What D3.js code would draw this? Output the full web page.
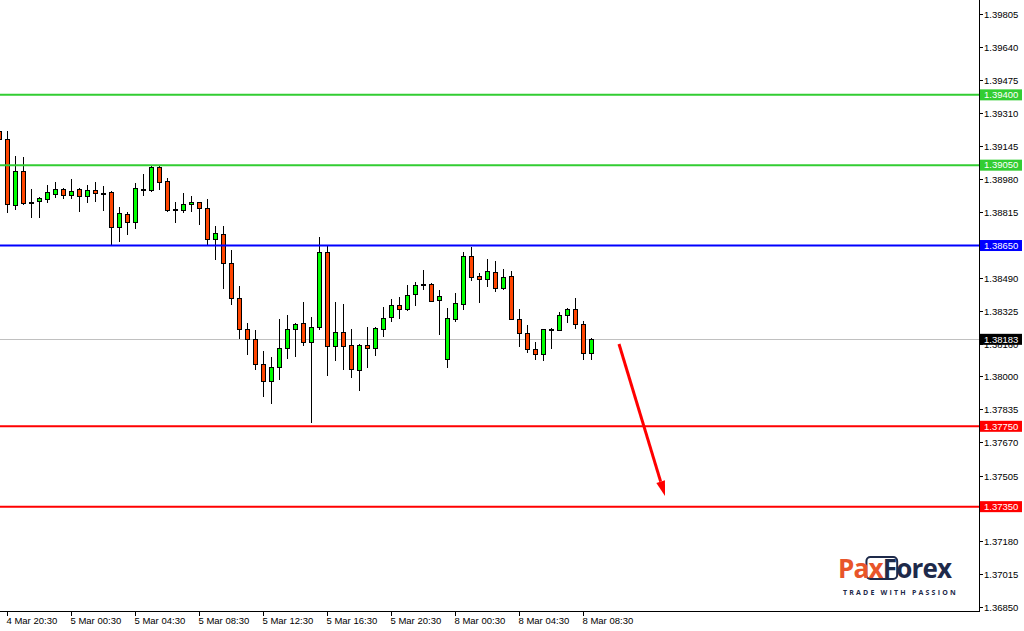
<!DOCTYPE html>
<html><head><meta charset="utf-8">
<script src="https://cdn.jsdelivr.net/npm/d3@7/dist/d3.min.js"></script>
<style>html,body{margin:0;padding:0;background:#fff;}svg{display:block;}</style>
</head><body>
<svg id="chart" width="1024" height="631"></svg>
<script>
// ---- data (M30 candles, bar index -1 .. 73) ----
const firstBar = -1;
const open = [1.39220,1.39180,1.38852,1.39021,1.38867,1.38872,1.38882,1.38906,1.38931,1.38902,
1.38931,1.38897,1.38926,1.38911,1.38916,1.38742,1.38807,1.38767,1.38931,1.38926,
1.39041,1.38971,1.38832,1.38827,1.38857,1.38867,1.38837,1.38682,1.38707,1.38563,
1.38389,1.38234,1.38184,1.38060,1.37975,1.38045,1.38140,1.38234,1.38264,1.38169,
1.38244,1.38618,1.38150,1.38219,1.38155,1.38030,1.38155,1.38140,1.38234,1.38294,
1.38354,1.38334,1.38408,1.38458,1.38458,1.38379,1.38085,1.38284,1.38359,1.38598,
1.38498,1.38483,1.38518,1.38438,1.38498,1.38284,1.38214,1.38135,1.38110,1.38232,
1.38229,1.38304,1.38334,1.38259,1.38115];
const high = [1.39230,1.39220,1.39096,1.39091,1.38931,1.38892,1.38951,1.38966,1.38936,1.38981,
1.38936,1.38951,1.38966,1.38946,1.38921,1.38842,1.38817,1.38961,1.39006,1.39046,
1.39046,1.38986,1.38867,1.38911,1.38897,1.38867,1.38882,1.38747,1.38747,1.38628,
1.38448,1.38264,1.38229,1.38125,1.38095,1.38284,1.38304,1.38264,1.38369,1.38294,
1.38692,1.38648,1.38369,1.38359,1.38234,1.38160,1.38244,1.38244,1.38344,1.38384,
1.38394,1.38453,1.38468,1.38528,1.38463,1.38428,1.38339,1.38413,1.38618,1.38643,
1.38513,1.38583,1.38573,1.38533,1.38523,1.38334,1.38254,1.38169,1.38234,1.38239,
1.38319,1.38339,1.38389,1.38274,1.38188];
const low = [1.39170,1.38817,1.38832,1.38857,1.38792,1.38792,1.38867,1.38892,1.38887,1.38887,
1.38822,1.38867,1.38872,1.38827,1.38657,1.38672,1.38707,1.38737,1.38902,1.38921,
1.38931,1.38822,1.38767,1.38817,1.38822,1.38757,1.38653,1.38583,1.38438,1.38359,
1.38189,1.38110,1.38035,1.37901,1.37866,1.37985,1.38090,1.38100,1.38155,1.37771,
1.38234,1.38005,1.38080,1.38035,1.37995,1.37930,1.38045,1.38105,1.38199,1.38274,
1.38289,1.38329,1.38354,1.38433,1.38374,1.38209,1.38045,1.38274,1.38334,1.38478,
1.38369,1.38448,1.38423,1.38433,1.38284,1.38150,1.38120,1.38085,1.38080,1.38140,
1.38229,1.38269,1.38239,1.38085,1.38085];
const close = [1.39180,1.38857,1.39021,1.38862,1.38867,1.38887,1.38916,1.38931,1.38902,1.38921,
1.38897,1.38926,1.38911,1.38911,1.38742,1.38812,1.38767,1.38936,1.38931,1.39041,
1.38966,1.38827,1.38832,1.38857,1.38867,1.38837,1.38682,1.38712,1.38563,1.38389,
1.38234,1.38184,1.38060,1.37975,1.38045,1.38140,1.38234,1.38259,1.38169,1.38244,
1.38618,1.38150,1.38219,1.38150,1.38035,1.38155,1.38140,1.38239,1.38289,1.38354,
1.38334,1.38404,1.38453,1.38458,1.38374,1.38399,1.38289,1.38364,1.38598,1.38493,
1.38483,1.38523,1.38438,1.38493,1.38284,1.38214,1.38135,1.38110,1.38234,1.38232,
1.38304,1.38334,1.38259,1.38115,1.38183];

const xTickLabels = ["4 Mar 20:30","5 Mar 00:30","5 Mar 04:30","5 Mar 08:30","5 Mar 12:30",
  "5 Mar 16:30","5 Mar 20:30","8 Mar 00:30","8 Mar 04:30","8 Mar 08:30"];
const xTickBars = [0,8,16,24,32,40,48,56,64,72];
// price-scale ticks; the ones hidden behind level labels carry no visible text
const yTickValues = [1.39805,1.39640,1.39475,1.39310,1.39145,1.38980,1.38815,1.38650,1.38490,
  1.38325,1.38160,1.38000,1.37835,1.37670,1.37505,1.37340,1.37180,1.37015,1.36850];
const yTickHidden = [1.38650,1.37340];

const levelPrices = [1.39400,1.39050,1.38650,1.37750,1.37350];
const levelColors = ["#32CD32","#32CD32","#0000FF","#FF0000","#FF0000"];
const currentPrice = 1.38183;
const arrowFrom = {bar:76.5, price:1.38160};
const arrowTo = {bar:82.25, price:1.37403};

// ---- layout ----
const W = 1024, H = 631, plotRight = 979, plotBottom = 611;
const svg = d3.select("#chart");
const x = d3.scaleLinear().domain([0,72]).range([7,583]);
const y = d3.scaleLinear().domain([1.3685,1.39805]).range([607.1,13.5]);
const font = "'Liberation Sans', Arial, sans-serif";

svg.append("rect").attr("width",W).attr("height",H).attr("fill","#fff");

const candles = d3.range(open.length).map(i => ({
  k: i + firstBar, o: open[i], h: high[i], l: low[i], c: close[i]
}));

svg.append("clipPath").attr("id","clip").append("rect")
  .attr("x",0).attr("y",0).attr("width",plotRight).attr("height",plotBottom);
const plot = svg.append("g").attr("clip-path","url(#clip)");

// current price line
plot.append("line").attr("x1",0).attr("x2",plotRight)
  .attr("y1",Math.round(y(currentPrice))+0.5).attr("y2",Math.round(y(currentPrice))+0.5)
  .attr("stroke","#C0C0C0").attr("stroke-width",1);

// candles
const cg = plot.append("g").selectAll("g").data(candles).join("g");
cg.append("line")
  .attr("x1",d=>Math.round(x(d.k))+0.5).attr("x2",d=>Math.round(x(d.k))+0.5)
  .attr("y1",d=>Math.round(y(d.h))).attr("y2",d=>Math.round(y(d.l))+1)
  .attr("stroke","#000").attr("stroke-width",1);
cg.append("rect")
  .attr("x",d=>Math.round(x(d.k))-1.5)
  .attr("width",4)
  .attr("y",d=>Math.round(y(Math.max(d.o,d.c)))+0.5)
  .attr("height",d=>Math.max(1,Math.round(y(Math.min(d.o,d.c)))-Math.round(y(Math.max(d.o,d.c)))))
  .attr("fill",d=>d.c>d.o?"#00FF00":(d.c<d.o?"#FF4500":"#000"))
  .attr("stroke","#000").attr("stroke-width",1);

// level lines
plot.append("g").selectAll("line").data(levelPrices).join("line")
  .attr("x1",0).attr("x2",plotRight)
  .attr("y1",d=>y(d)).attr("y2",d=>y(d))
  .attr("stroke",(d,i)=>levelColors[i]).attr("stroke-width",2);

// arrow
const ax1 = x(arrowFrom.bar), ay1 = y(arrowFrom.price), ax2 = x(arrowTo.bar), ay2 = y(arrowTo.price);
const ang = Math.atan2(ay2-ay1, ax2-ax1);
const headLen = 15, headHalf = 4.5;
const bx = ax2 - headLen*Math.cos(ang), by = ay2 - headLen*Math.sin(ang);
plot.append("line").attr("x1",ax1).attr("y1",ay1).attr("x2",bx).attr("y2",by)
  .attr("stroke","#FF0000").attr("stroke-width",3);
plot.append("path")
  .attr("d", d3.line()([[ax2,ay2],[bx - headHalf*Math.sin(ang), by + headHalf*Math.cos(ang)],
                        [bx + headHalf*Math.sin(ang), by - headHalf*Math.cos(ang)]]) + "Z")
  .attr("fill","#FF0000");

// axis lines
svg.append("line").attr("x1",plotRight+0.5).attr("x2",plotRight+0.5).attr("y1",0).attr("y2",plotBottom+1)
  .attr("stroke","#000");
svg.append("line").attr("x1",0).attr("x2",plotRight+1).attr("y1",plotBottom+0.5).attr("y2",plotBottom+0.5)
  .attr("stroke","#000");

// right axis ticks
const yt = svg.append("g").selectAll("g").data(yTickValues).join("g")
  .attr("transform",d=>`translate(0,${Math.round(y(d))+0.5})`);
yt.append("line").attr("x1",plotRight).attr("x2",plotRight+4).attr("stroke","#000");
yt.filter(d=>!yTickHidden.includes(d)).append("text").attr("x",plotRight+5).attr("dy","0.35em")
  .attr("font-family",font).attr("font-size","9.5px").attr("fill","#000")
  .text(d=>d.toFixed(5));

// bottom axis ticks
const xt = svg.append("g").selectAll("g").data(xTickBars).join("g")
  .attr("transform",d=>`translate(${Math.round(x(d))+0.5},${plotBottom})`);
xt.append("line").attr("y1",0).attr("y2",5).attr("stroke","#000");
xt.append("text").attr("x",-1).attr("y",13).attr("font-family",font).attr("font-size","9.5px")
  .attr("fill","#000").text((d,i)=>xTickLabels[i]);

// price labels on axis
const labels = levelPrices.map((p,i)=>({p, fill:levelColors[i]})).concat([{p:currentPrice, fill:"#000"}]);
const lg = svg.append("g").selectAll("g").data(labels).join("g")
  .attr("transform",d=>`translate(0,${y(d.p)})`);
lg.append("rect").attr("x",plotRight+1).attr("y",-5.5).attr("width",42).attr("height",11).attr("fill",d=>d.fill);
lg.append("text").attr("x",plotRight+5).attr("dy","0.35em").attr("font-family",font)
  .attr("font-size","9.5px").attr("fill","#fff").text(d=>d.p.toFixed(5));

// logo
const logo = svg.append("g").attr("transform","translate(838,578)");
const boxG = logo.append("g");
const lt = logo.append("text").attr("font-family","'Open Sans', Arial, sans-serif").attr("font-weight","700")
  .attr("font-size","26px").attr("letter-spacing","-0.8px");
lt.append("tspan").attr("fill","#E8552A").text("Pax");
lt.append("tspan").attr("fill","#1E2A4A").text("Forex");
const tNode = lt.node();
const xStart = tNode.getSubStringLength(0,2), xw = tNode.getSubStringLength(2,2);
boxG.append("rect").attr("x",xStart-2).attr("y",-21).attr("width",xw+3).attr("height",22).attr("rx",4)
  .attr("fill","none").attr("stroke","#1E2A4A").attr("stroke-width",2);
logo.append("text").attr("x",5).attr("y",17).attr("font-family","'Open Sans', Arial, sans-serif")
  .attr("font-weight","700").attr("font-size","7px").attr("letter-spacing","2.2px").attr("fill","#1E2A4A")
  .text("TRADE WITH PASSION");
</script>
</body></html>
